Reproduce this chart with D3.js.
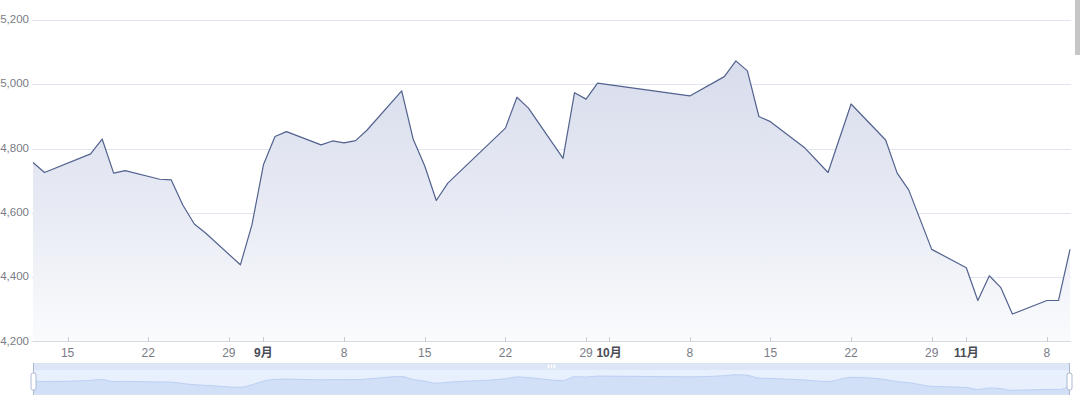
<!DOCTYPE html>
<html>
<head>
<meta charset="utf-8">
<script src="https://cdn.jsdelivr.net/npm/d3@7"></script>
<style>
  html, body { margin: 0; padding: 0; background: #fff; }
  svg { display: block; font-family: "Microsoft YaHei", "Liberation Sans", "Noto Sans CJK SC", sans-serif; }
</style>
</head>
<body>
<svg id="chart" width="1080" height="402"></svg>
<script>
// ---- data ----
const dates = ["2021-08-12","2021-08-13","2021-08-17","2021-08-18","2021-08-19","2021-08-20",
  "2021-08-23","2021-08-24","2021-08-25","2021-08-26","2021-08-27","2021-08-30","2021-08-31",
  "2021-09-01","2021-09-02","2021-09-03","2021-09-06","2021-09-07","2021-09-08","2021-09-09",
  "2021-09-10","2021-09-13","2021-09-14","2021-09-15","2021-09-16","2021-09-17","2021-09-22",
  "2021-09-23","2021-09-24","2021-09-27","2021-09-28","2021-09-29","2021-09-30","2021-10-08",
  "2021-10-11","2021-10-12","2021-10-13","2021-10-14","2021-10-15","2021-10-18","2021-10-20",
  "2021-10-22","2021-10-25","2021-10-26","2021-10-27","2021-10-29","2021-11-01","2021-11-02",
  "2021-11-03","2021-11-04","2021-11-05","2021-11-08","2021-11-09","2021-11-10"];
const values = [4757,4726,4784,4830,4724,4732,
  4705,4703,4625,4566,4537,4439,4563,
  4750,4838,4853,4812,4824,4818,4825,
  4858,4980,4829,4746,4639,4693,4864,
  4960,4926,4770,4974,4954,5004,4964,
  5024,5073,5042,4900,4884,4802,4726,
  4939,4827,4724,4672,4487,4430,4328,
  4405,4368,4286,4328,4328,4487];
const yTicks = [4200,4400,4600,4800,5000,5200];
const xTickDates = ["2021-08-15","2021-08-22","2021-08-29","2021-09-01","2021-09-08","2021-09-15",
  "2021-09-22","2021-09-29","2021-10-01","2021-10-08","2021-10-15","2021-10-22","2021-10-29",
  "2021-11-01","2021-11-08"];
const xTickLabels = ["15","22","29","9月","8","15","22","29","10月","8","15","22","29","11月","8"];
const xDomain = ["2021-08-12","2021-11-10"];

(function () {
// ---- setup ----
const parse = d3.timeParse("%Y-%m-%d");
const data = dates.map((d, i) => ({ date: parse(d), value: values[i] }));
const svg = d3.select("#chart");

const pL = 33, pR = 1070, pT = 20, pB = 341.7;
const x = d3.scaleTime().domain(xDomain.map(parse)).range([pL, pR]);
const y = d3.scaleLinear().domain([4200, 5200]).range([pB, pT]);

// gradient for area
const defs = svg.append("defs");
const grad = defs.append("linearGradient").attr("id", "areaGrad")
  .attr("gradientUnits", "userSpaceOnUse")
  .attr("x1", 0).attr("x2", 0).attr("y1", y(5100)).attr("y2", pB);
grad.append("stop").attr("offset", 0).attr("stop-color", "#d7dcec");
grad.append("stop").attr("offset", 0.55).attr("stop-color", "#e8ebf4");
grad.append("stop").attr("offset", 1).attr("stop-color", "#fafbfd");

// grid lines
svg.append("g").selectAll("line").data(yTicks.filter(t => t !== 4200)).join("line")
  .attr("x1", pL - 1).attr("x2", pR + 1)
  .attr("y1", d => Math.round(y(d)) + 0.5).attr("y2", d => Math.round(y(d)) + 0.5)
  .attr("stroke", "#e0e6f1").attr("stroke-width", 1);

// y labels
svg.append("g").selectAll("text").data(yTicks).join("text")
  .attr("x", 29).attr("y", d => y(d))
  .attr("text-anchor", "end").attr("dominant-baseline", "middle")
  .attr("font-size", 11.5).attr("fill", "#7a7c85")
  .text(d => d3.format(",")(d));

// area + line
const area = d3.area().x(d => x(d.date)).y0(pB).y1(d => y(d.value));
const line = d3.line().x(d => x(d.date)).y(d => y(d.value));
svg.append("path").datum(data).attr("d", area).attr("fill", "url(#areaGrad)");
svg.append("path").datum(data).attr("d", line)
  .attr("fill", "none").attr("stroke", "#52628e").attr("stroke-width", 1.2)
  .attr("stroke-linejoin", "round");

// x axis line
svg.append("line").attr("x1", pL - 1).attr("x2", pR + 1)
  .attr("y1", 341.5).attr("y2", 341.5).attr("stroke", "#d6dae2");

// x ticks
const xt = xTickDates.map((d, i) => ({ date: parse(d), label: xTickLabels[i] }));
svg.append("g").selectAll("line").data(xt).join("line")
  .attr("x1", d => Math.round(x(d.date)) + 0.5).attr("x2", d => Math.round(x(d.date)) + 0.5)
  .attr("y1", 337).attr("y2", 342).attr("stroke", "#c8ccd6");
svg.append("g").selectAll("text").data(xt).join("text")
  .attr("x", d => x(d.date)).attr("y", 357)
  .attr("text-anchor", "middle").attr("font-size", 12)
  .attr("font-weight", d => d.label.includes("月") ? "bold" : "normal")
  .attr("fill", d => d.label.includes("月") ? "#4a4c55" : "#7a7c85")
  .text(d => d.label);

// ---- data zoom slider ----
const zTop = 363, zMove = 370, zBottom = 395;
svg.append("rect").attr("x", pL).attr("y", zTop).attr("width", pR - pL).attr("height", zMove - zTop)
  .attr("fill", "#dde6f6");
svg.append("rect").attr("x", pL).attr("y", zMove).attr("width", pR - pL).attr("height", zBottom - zMove)
  .attr("fill", "#e8effd");
const ext = d3.extent(values);
const off = (ext[1] - ext[0]) * 0.3;
const ys = d3.scaleLinear().domain([ext[0] - off, ext[1] + off]).range([zBottom, zMove]);
const zArea = d3.area().x(d => x(d.date)).y0(zBottom).y1(d => ys(d.value)).curve(d3.curveMonotoneX);
const zLine = d3.line().x(d => x(d.date)).y(d => ys(d.value)).curve(d3.curveMonotoneX);
svg.append("path").datum(data).attr("d", zArea).attr("fill", "#d1e0f7");
svg.append("path").datum(data).attr("d", zLine).attr("fill", "none").attr("stroke", "#bcd0f3").attr("stroke-width", 1);
svg.append("rect").attr("x", pL + 0.5).attr("y", zTop + 0.5).attr("width", pR - pL - 1).attr("height", zBottom - zTop - 1)
  .attr("fill", "none").attr("stroke", "#dbe3f1");
// move handle icon
const mid = (pL + pR) / 2;
[-3, 0, 3].forEach(dx => {
  svg.append("rect").attr("x", mid + dx - 0.75).attr("y", zTop + 1.5).attr("width", 1.5).attr("height", 4)
    .attr("rx", 0.75).attr("fill", "#ffffff");
});
// handles
[pL, pR - 1].forEach(hx => {
  svg.append("line").attr("x1", hx + 0.5).attr("x2", hx + 0.5).attr("y1", zTop).attr("y2", zBottom)
    .attr("stroke", "#acb8d1").attr("stroke-width", 1);
  svg.append("rect").attr("x", hx - 2).attr("y", 373).attr("width", 5).attr("height", 17).attr("rx", 2)
    .attr("fill", "#fff").attr("stroke", "#acb8d1").attr("stroke-width", 1);
});

// scrollbar fragment at top-right
svg.append("rect").attr("x", 1075).attr("y", 0).attr("width", 5).attr("height", 55).attr("fill", "#c6c6c6");
})();
</script>
</body>
</html>
